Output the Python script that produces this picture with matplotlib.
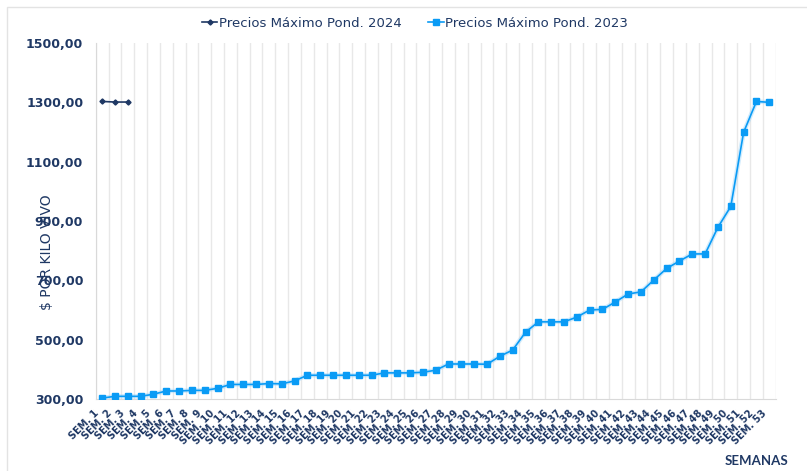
import matplotlib.pyplot as plt
import matplotlib.patches as patches
import matplotlib.transforms as mtransforms
import numpy as np

# data
semanas = [f"SEM. {i}" for i in range(1, 54)]
precios_2024 = [1303, 1301, 1301]
precios_2023 = [303, 309, 309, 309, 316, 327, 327, 329, 329, 336,
                349, 349, 349, 352, 351, 361, 380, 380, 380, 380,
                380, 380, 388, 388, 388, 390, 397, 418, 418, 418,
                417, 444, 465, 525, 560, 560, 560, 576, 600, 602,
                627, 654, 661, 701, 740, 765, 789, 789, 879, 949,
                1199, 1303, 1300]
y_ticks = [300, 500, 700, 900, 1100, 1300, 1500]

navy = "#1F3864"
blue = "#0A9BF5"

plt.rcParams['font.family'] = ['DejaVu Sans']

fig = plt.figure(figsize=(8.07, 4.71), dpi=100)
ax = fig.add_axes([0.1186, 0.1529, 0.8426, 0.7558])

# light frame around the whole chart
fig.patches.append(patches.Rectangle((7 / 807, -0.05), 1.05, 1 - 7 / 471 + 0.05,
                                     transform=fig.transFigure, fill=False,
                                     edgecolor="#E3E3E3", lw=1.0))

x = np.arange(len(semanas))
ax.plot(x, precios_2023, color="#8FD0FA", lw=3.2, alpha=0.4, zorder=2)
ax.plot(x, precios_2023, color=blue, lw=1.2, marker="s", markersize=4.6,
        label="Precios Máximo Pond. 2023", zorder=3)
ax.plot(x[:len(precios_2024)], precios_2024, color=navy, lw=1.2, marker="D",
        markersize=2.6, label="Precios Máximo Pond. 2024", zorder=4)

ax.set_xlim(-0.5, len(semanas) - 0.5)
ax.set_ylim(300, 1500)
ax.set_yticks(y_ticks)
ax.set_yticklabels([f"{v},00" for v in y_ticks], color=navy, fontsize=9, fontweight="bold")
ax.set_xticks(x)
ax.set_xticklabels(semanas, rotation=45, ha="right", rotation_mode="anchor",
                   color=navy, fontsize=7, fontweight="bold")
ax.tick_params(axis="both", length=0)
ax.tick_params(axis="x", pad=5)
ax.tick_params(axis="y", pad=9)

# labels sit a bit left of their category, like the original
shift = mtransforms.ScaledTranslation(-8 / 100, -2 / 100, fig.dpi_scale_trans)
for lbl in ax.get_xticklabels():
    lbl.set_transform(lbl.get_transform() + shift)

# vertical grid between categories
ax.set_xticks(np.arange(-0.5, len(semanas)), minor=True)
ax.tick_params(axis="x", which="minor", length=0)
ax.grid(axis="x", which="minor", color="#E8E8E8", lw=1.0)
ax.grid(axis="x", which="major", visible=False)
ax.grid(axis="y", visible=False)

for side in ["top", "right"]:
    ax.spines[side].set_visible(False)
for side in ["left", "bottom"]:
    ax.spines[side].set_color("#D9D9D9")

handles, labels = ax.get_legend_handles_labels()
leg = fig.legend(handles[::-1], labels[::-1], loc="center", bbox_to_anchor=(0.514, 0.951),
                 ncol=2, frameon=False, fontsize=9.5, handlelength=1.2,
                 handletextpad=0.1, columnspacing=2.0)
for t in leg.get_texts():
    t.set_color(navy)

fig.text(0.058, 0.465, "$ POR KILO VIVO", rotation=90, ha="center", va="center",
         color=navy, fontsize=10)
fig.text(0.938, 0.021, "SEMANAS", ha="center", va="center", color=navy,
         fontsize=9.5, fontweight="bold", family=["Lato", "DejaVu Sans"])

fig.savefig("out.png", dpi=100)
